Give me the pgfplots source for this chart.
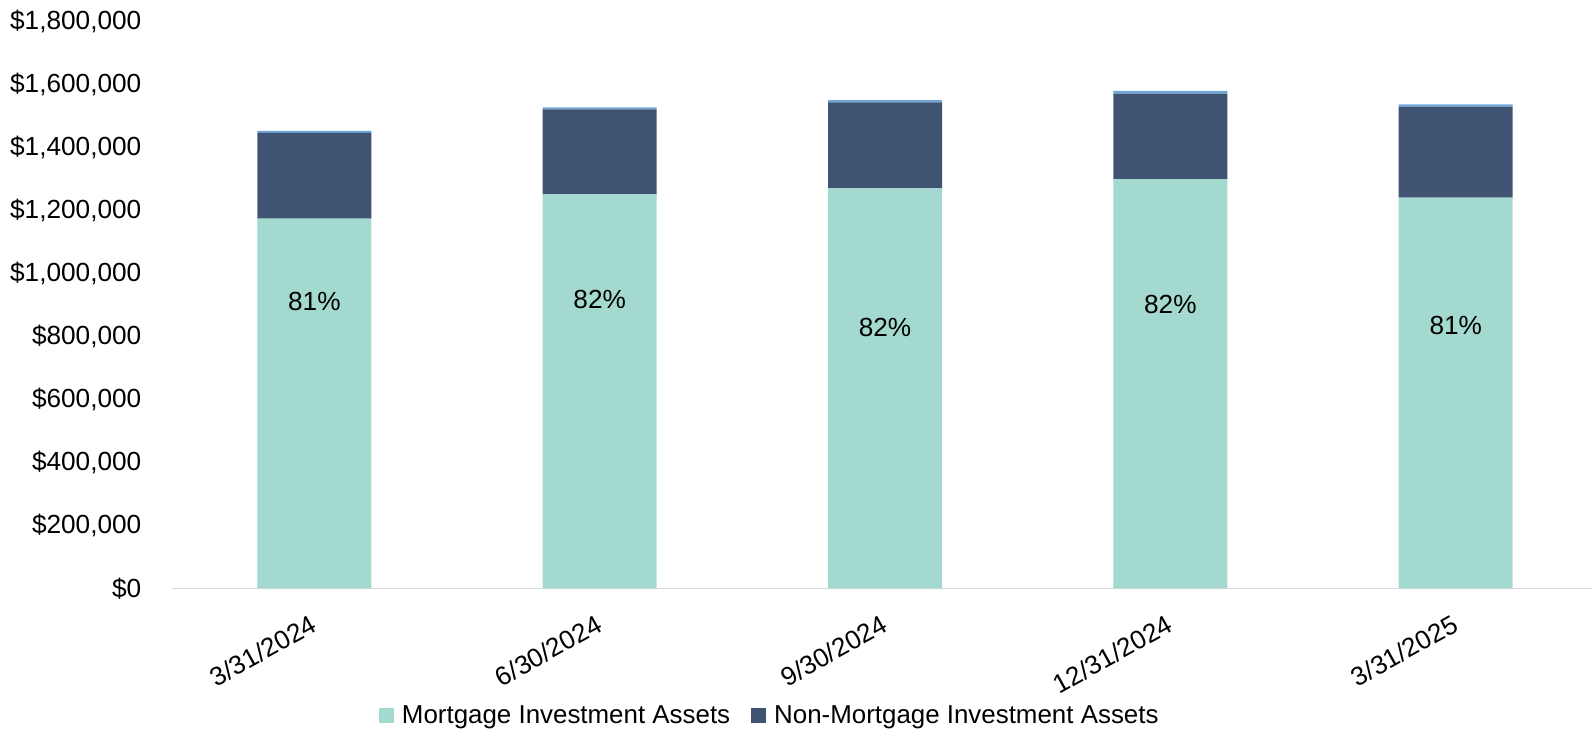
\documentclass[border=0pt]{standalone}
\usepackage{pgfplots}
\pgfplotsset{compat=1.18}
\usepackage{fontspec}
\setmainfont{Liberation Sans}
\definecolor{mort}{HTML}{A3D9CF}
\definecolor{nonmort}{HTML}{3F5373}
\definecolor{other}{HTML}{6CA6DA}
\definecolor{axisgray}{HTML}{D9D9D9}
\newcommand{\lblfont}{\fontsize{13.1}{15}\selectfont}
\newcommand{\legfont}{\fontsize{12.95}{15}\selectfont}
\begin{document}
\begin{tikzpicture}
\useasboundingbox (-85.85pt,-71.85pt) rectangle (710.15pt,294.15pt);
\begin{axis}[
  at={(0pt,0pt)}, anchor=south west,
  scale only axis,
  width=713.35pt, height=283.65pt,
  ybar stacked, bar width=57pt,
  xmin=-0.5, xmax=4.5, ymin=0, ymax=1800000,
  xtick={0,1,2,3,4},
  xticklabels={3/31/2024,6/30/2024,9/30/2024,12/31/2024,3/31/2025},
  ytick={0,200000,400000,600000,800000,1000000,1200000,1400000,1600000,1800000},
  scaled y ticks=false,
  /pgf/number format/assume math mode=true,
  yticklabel={\$\pgfmathprintnumber[fixed,precision=0,1000 sep={,}]{\tick}},
  separate axis lines,
  axis x line*=bottom, axis y line*=left,
  x axis line style={draw=axisgray, line width=0.75pt},
  y axis line style={draw=none},
  major tick length=0pt,
  tick style={draw=none},
  yticklabel style={font=\lblfont, anchor=east, inner sep=0pt, xshift=-15pt},
  xticklabel style={font=\lblfont, anchor=east, inner sep=0pt, yshift=-17pt, rotate=29},
  legend columns=2,
  legend style={at={(0.1453,-0.2251)}, anchor=west, draw=none, fill=none,
    inner sep=0pt, outer sep=0pt, font=\legfont,
    nodes={inner sep=0pt},
    /tikz/every odd column/.append style={column sep=4pt},
    /tikz/every even column/.append style={column sep=10.5pt}},
  legend image code/.code={\fill[#1,draw=none] (0pt,-3.75pt) rectangle (7.5pt,3.75pt);},
  clip=false,
  after end axis/.code={
    \node[font=\lblfont] at (axis cs:0,909000) {81\%};
    \node[font=\lblfont] at (axis cs:1,916000) {82\%};
    \node[font=\lblfont] at (axis cs:2,829000) {82\%};
    \node[font=\lblfont] at (axis cs:3,900000) {82\%};
    \node[font=\lblfont] at (axis cs:4,835000) {81\%};
  },
]
\addplot[fill=mort, draw=none] coordinates {(0,1172600) (1,1250000) (2,1269000) (3,1298500) (4,1239200)};
\addplot[fill=nonmort, draw=none] coordinates {(0,272800) (1,269700) (2,272900) (3,270700) (4,288700)};
\addplot[fill=other, draw=none] coordinates {(0,6300) (1,6300) (2,7300) (3,9000) (4,7600)};
\legend{Mortgage Investment Assets, Non-Mortgage Investment Assets}
\end{axis}
\end{tikzpicture}
\end{document}
